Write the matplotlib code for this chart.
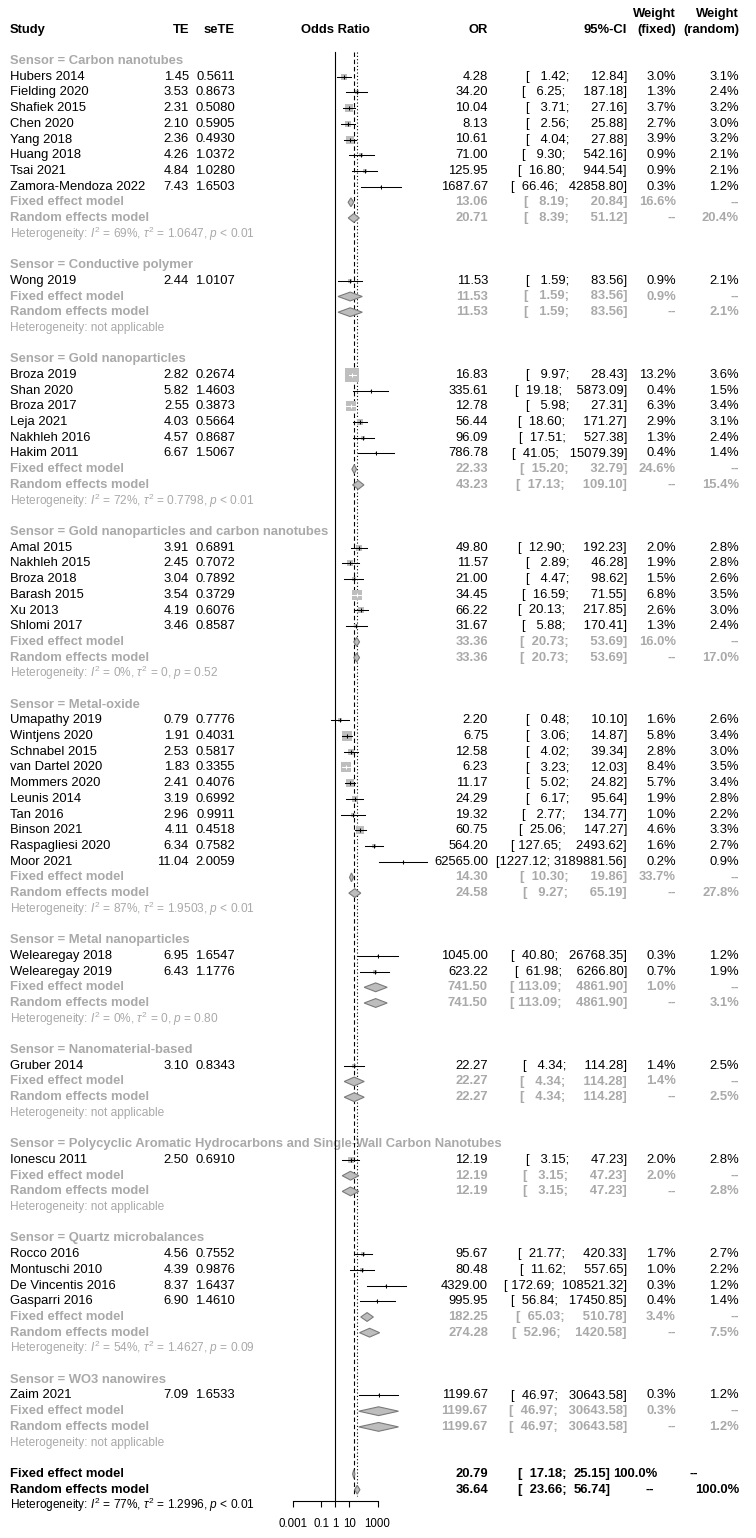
import numpy as np
import matplotlib.pyplot as plt
from matplotlib.patches import Polygon

plt.rcParams['font.family'] = ['Liberation Sans', 'DejaVu Sans']
plt.rcParams['mathtext.fontset'] = 'custom'
plt.rcParams['mathtext.rm'] = 'Liberation Sans'
plt.rcParams['mathtext.it'] = 'Liberation Sans:italic'
plt.rcParams['mathtext.bf'] = 'Liberation Sans:bold'

### Data.
groups = ['Carbon nanotubes', 'Conductive polymer', 'Gold nanoparticles',
          'Gold nanoparticles and carbon nanotubes', 'Metal-oxide',
          'Metal nanoparticles', 'Nanomaterial-based',
          'Polycyclic Aromatic Hydrocarbons and Single-Wall Carbon Nanotubes',
          'Quartz microbalances', 'WO3 nanowires']
n_studies = [8, 1, 6, 6, 10, 2, 1, 1, 4, 1]

study = ['Hubers 2014', 'Fielding 2020', 'Shafiek 2015', 'Chen 2020', 'Yang 2018',
         'Huang 2018', 'Tsai 2021', 'Zamora-Mendoza 2022',
         'Wong 2019',
         'Broza 2019', 'Shan 2020', 'Broza 2017', 'Leja 2021', 'Nakhleh 2016', 'Hakim 2011',
         'Amal 2015', 'Nakhleh 2015', 'Broza 2018', 'Barash 2015', 'Xu 2013', 'Shlomi 2017',
         'Umapathy 2019', 'Wintjens 2020', 'Schnabel 2015', 'van Dartel 2020', 'Mommers 2020',
         'Leunis 2014', 'Tan 2016', 'Binson 2021', 'Raspagliesi 2020', 'Moor 2021',
         'Welearegay 2018', 'Welearegay 2019',
         'Gruber 2014',
         'Ionescu 2011',
         'Rocco 2016', 'Montuschi 2010', 'De Vincentis 2016', 'Gasparri 2016',
         'Zaim 2021']
te = [1.45, 3.53, 2.31, 2.10, 2.36, 4.26, 4.84, 7.43,
      2.44,
      2.82, 5.82, 2.55, 4.03, 4.57, 6.67,
      3.91, 2.45, 3.04, 3.54, 4.19, 3.46,
      0.79, 1.91, 2.53, 1.83, 2.41, 3.19, 2.96, 4.11, 6.34, 11.04,
      6.95, 6.43,
      3.10,
      2.50,
      4.56, 4.39, 8.37, 6.90,
      7.09]
sete = [0.5611, 0.8673, 0.5080, 0.5905, 0.4930, 1.0372, 1.0280, 1.6503,
        1.0107,
        0.2674, 1.4603, 0.3873, 0.5664, 0.8687, 1.5067,
        0.6891, 0.7072, 0.7892, 0.3729, 0.6076, 0.8587,
        0.7776, 0.4031, 0.5817, 0.3355, 0.4076, 0.6992, 0.9911, 0.4518, 0.7582, 2.0059,
        1.6547, 1.1776,
        0.8343,
        0.6910,
        0.7552, 0.9876, 1.6437, 1.4610,
        1.6533]
odds = [4.28, 34.20, 10.04, 8.13, 10.61, 71.00, 125.95, 1687.67,
        11.53,
        16.83, 335.61, 12.78, 56.44, 96.09, 786.78,
        49.80, 11.57, 21.00, 34.45, 66.22, 31.67,
        2.20, 6.75, 12.58, 6.23, 11.17, 24.29, 19.32, 60.75, 564.20, 62565.00,
        1045.00, 623.22,
        22.27,
        12.19,
        95.67, 80.48, 4329.00, 995.95,
        1199.67]
lower = [1.42, 6.25, 3.71, 2.56, 4.04, 9.30, 16.80, 66.46,
         1.59,
         9.97, 19.18, 5.98, 18.60, 17.51, 41.05,
         12.90, 2.89, 4.47, 16.59, 20.13, 5.88,
         0.48, 3.06, 4.02, 3.23, 5.02, 6.17, 2.77, 25.06, 127.65, 1227.12,
         40.80, 61.98,
         4.34,
         3.15,
         21.77, 11.62, 172.69, 56.84,
         46.97]
upper = [12.84, 187.18, 27.16, 25.88, 27.88, 542.16, 944.54, 42858.80,
         83.56,
         28.43, 5873.09, 27.31, 171.27, 527.38, 15079.39,
         192.23, 46.28, 98.62, 71.55, 217.85, 170.41,
         10.10, 14.87, 39.34, 12.03, 24.82, 95.64, 134.77, 147.27, 2493.62, 3189881.56,
         26768.35, 6266.80,
         114.28,
         47.23,
         420.33, 557.65, 108521.32, 17450.85,
         30643.58]
w_fixed = [3.0, 1.3, 3.7, 2.7, 3.9, 0.9, 0.9, 0.3,
           0.9,
           13.2, 0.4, 6.3, 2.9, 1.3, 0.4,
           2.0, 1.9, 1.5, 6.8, 2.6, 1.3,
           1.6, 5.8, 2.8, 8.4, 5.7, 1.9, 1.0, 4.6, 1.6, 0.2,
           0.3, 0.7,
           1.4,
           2.0,
           1.7, 1.0, 0.3, 0.4,
           0.3]
w_random = [3.1, 2.4, 3.2, 3.0, 3.2, 2.1, 2.1, 1.2,
            2.1,
            3.6, 1.5, 3.4, 3.1, 2.4, 1.4,
            2.8, 2.8, 2.6, 3.5, 3.0, 2.4,
            2.6, 3.4, 3.0, 3.5, 3.4, 2.8, 2.2, 3.3, 2.7, 0.9,
            1.2, 1.9,
            2.5,
            2.8,
            2.7, 2.2, 1.2, 1.4,
            1.2]

# subgroup summaries: fixed and random
fix_or = [13.06, 11.53, 22.33, 33.36, 14.30, 741.50, 22.27, 12.19, 182.25, 1199.67]
fix_lo = [8.19, 1.59, 15.20, 20.73, 10.30, 113.09, 4.34, 3.15, 65.03, 46.97]
fix_hi = [20.84, 83.56, 32.79, 53.69, 19.86, 4861.90, 114.28, 47.23, 510.78, 30643.58]
fix_w = [16.6, 0.9, 24.6, 16.0, 33.7, 1.0, 1.4, 2.0, 3.4, 0.3]
ran_or = [20.71, 11.53, 43.23, 33.36, 24.58, 741.50, 22.27, 12.19, 274.28, 1199.67]
ran_lo = [8.39, 1.59, 17.13, 20.73, 9.27, 113.09, 4.34, 3.15, 52.96, 46.97]
ran_hi = [51.12, 83.56, 109.10, 53.69, 65.19, 4861.90, 114.28, 47.23, 1420.58, 30643.58]
ran_w = [20.4, 2.1, 15.4, 17.0, 27.8, 3.1, 2.5, 2.8, 7.5, 1.2]
het = [r'Heterogeneity: $I^2$ = 69%, $\tau^2$ = 1.0647, $p$ < 0.01',
       'Heterogeneity: not applicable',
       r'Heterogeneity: $I^2$ = 72%, $\tau^2$ = 0.7798, $p$ < 0.01',
       r'Heterogeneity: $I^2$ = 0%, $\tau^2$ = 0, $p$ = 0.52',
       r'Heterogeneity: $I^2$ = 87%, $\tau^2$ = 1.9503, $p$ < 0.01',
       r'Heterogeneity: $I^2$ = 0%, $\tau^2$ = 0, $p$ = 0.80',
       'Heterogeneity: not applicable',
       'Heterogeneity: not applicable',
       r'Heterogeneity: $I^2$ = 54%, $\tau^2$ = 1.4627, $p$ = 0.09',
       'Heterogeneity: not applicable']

# overall
tot_or = [20.79, 36.64]
tot_lo = [17.18, 23.66]
tot_hi = [25.15, 56.74]
tot_het = r'Heterogeneity: $I^2$ = 77%, $\tau^2$ = 1.2996, $p$ < 0.01'

### Layout (pixels).
W, H = 756, 1538
Y0, DY = 61.0, 15.7          # first row centre, row height
X1, PXD = 335.2, 14.1        # pixel of OR=1, pixels per decade
X_STUDY, X_TE, X_SETE = 10, 189, 235
X_OR, X_CI, X_WF, X_WR = 488, 627, 676, 739
FS, FS_HET = 9.4, 8.6
GRAY = '#a9a9a9'
SQ = '#bebebe'

def row_of(px):
    return (px - Y0) / DY

def ci_str(lo, hi):
    return '[' + f'{lo:.2f}'.rjust(7) + '; ' + f'{hi:.2f}'.rjust(10) + ']'

fig = plt.figure(figsize=(W / 100, H / 100), dpi=100)
tax = fig.add_axes([0, 0, 1, 1])
tax.set_xlim(0, W)
tax.set_ylim(row_of(H), row_of(0))
tax.axis('off')

AX_L, AX_R, AX_B = 270, 440, 1501
fax = fig.add_axes([AX_L / W, (H - AX_B) / H, (AX_R - AX_L) / W, AX_B / H])
fax.set_xlim((AX_L - X1) / PXD, (AX_R - X1) / PXD)
fax.set_ylim(row_of(AX_B), row_of(0))
fax.patch.set_alpha(0)

def txt(x, r, s, ha='right', color='black', bold=False, size=FS):
    tax.text(x, r, s, ha=ha, va='center', color=color, fontsize=size,
             fontweight='bold' if bold else 'normal')

def diamond(est, lo, hi, r):
    h = 4.4 / DY
    xs = np.log10([lo, est, hi, est])
    fax.add_patch(Polygon(np.column_stack([xs, [r, r - h, r, r + h]]),
                          closed=True, facecolor='#bdbdbd', edgecolor='#7a7a7a',
                          lw=0.8, zorder=4))

# Header.
txt(X_STUDY, -2, 'Study', ha='left', bold=True)
txt(X_TE, -2, 'TE', bold=True)
txt(X_SETE, -2, 'seTE', bold=True)
txt(X1, -2, 'Odds Ratio', ha='center', bold=True)
txt(X_OR, -2, 'OR', bold=True)
txt(X_CI, -2, '95%-CI', bold=True)
txt(X_WF, -3, 'Weight', bold=True)
txt(X_WF, -2, '(fixed)', bold=True)
txt(X_WR, -3, 'Weight', bold=True)
txt(X_WR, -2, '(random)', bold=True)

# Groups.
r = 0
k = 0
for g, name in enumerate(groups):
    txt(X_STUDY, r, 'Sensor = ' + name, ha='left', color=GRAY, bold=True)
    for j in range(n_studies[g]):
        i = k + j
        rr = r + 1 + j
        txt(X_STUDY, rr, study[i], ha='left')
        txt(X_TE, rr, f'{te[i]:.2f}')
        txt(X_SETE, rr, f'{sete[i]:.4f}')
        txt(X_OR, rr, f'{odds[i]:.2f}')
        txt(X_CI, rr, ci_str(lower[i], upper[i]))
        txt(X_WF, rr, f'{w_fixed[i]:.1f}%')
        txt(X_WR, rr, f'{w_random[i]:.1f}%')
        # forest marks
        side = 3.75 * np.sqrt(w_fixed[i])
        lo, est, hi = np.log10([lower[i], odds[i], upper[i]])
        inside = (hi - lo) * PXD < side
        lc = 'white' if inside else 'black'
        fax.plot(est, rr, marker='s', ms=side * 0.72, color=SQ, mec=SQ, mew=0, zorder=3)
        fax.plot([lo, hi], [rr, rr], color=lc, lw=0.75, zorder=3.5)
        fax.plot(est, rr, marker='|', ms=3.0, color=lc, mew=0.75, zorder=3.5)
    k += n_studies[g]
    rf = r + 1 + n_studies[g]
    txt(X_STUDY, rf, 'Fixed effect model', ha='left', color=GRAY, bold=True)
    txt(X_OR, rf, f'{fix_or[g]:.2f}', color=GRAY, bold=True)
    txt(X_CI, rf, ci_str(fix_lo[g], fix_hi[g]), color=GRAY, bold=True)
    txt(X_WF, rf, f'{fix_w[g]:.1f}%', color=GRAY, bold=True)
    txt(X_WR, rf, '--', color=GRAY, bold=True)
    diamond(fix_or[g], fix_lo[g], fix_hi[g], rf)
    txt(X_STUDY, rf + 1, 'Random effects model', ha='left', color=GRAY, bold=True)
    txt(X_OR, rf + 1, f'{ran_or[g]:.2f}', color=GRAY, bold=True)
    txt(X_CI, rf + 1, ci_str(ran_lo[g], ran_hi[g]), color=GRAY, bold=True)
    txt(X_WF, rf + 1, '--', color=GRAY, bold=True)
    txt(X_WR, rf + 1, f'{ran_w[g]:.1f}%', color=GRAY, bold=True)
    diamond(ran_or[g], ran_lo[g], ran_hi[g], rf + 1)
    txt(X_STUDY, rf + 2, het[g], ha='left', color=GRAY, size=FS_HET)
    r = rf + 4

# Overall.
labels = ['Fixed effect model', 'Random effects model']
for m in range(2):
    rr = r + m
    txt(X_STUDY, rr, labels[m], ha='left', bold=True)
    txt(X_OR, rr, f'{tot_or[m]:.2f}', bold=True)
    txt(567, rr, '[' + f'{tot_lo[m]:.2f}'.rjust(7) + ';', bold=True)
    txt(574, rr, f'{tot_hi[m]:.2f}]', ha='left', bold=True)
    diamond(tot_or[m], tot_lo[m], tot_hi[m], rr)
txt(613, r, '100.0%', ha='left', bold=True)
txt(690, r, '--', ha='left', bold=True)
txt(645, r + 1, '--', ha='left', bold=True)
txt(X_WR, r + 1, '100.0%', bold=True)
txt(X_STUDY, r + 2, tot_het, ha='left', size=FS_HET)

# Reference lines.
top = row_of(52)
fax.plot([0, 0], [top, row_of(AX_B)], color='black', lw=0.8, zorder=2)
fax.plot([np.log10(tot_or[0])] * 2, [top, r + 1.4], color='black', lw=0.8,
         ls=(0, (4, 2.5)), zorder=2)
fax.plot([np.log10(tot_or[1])] * 2, [top, r + 1.4], color='black', lw=0.8,
         ls=(0, (1, 2)), zorder=2)

# x axis.
for s in ['top', 'left', 'right']:
    fax.spines[s].set_visible(False)
fax.spines['bottom'].set_bounds(-3, 3)
fax.spines['bottom'].set_linewidth(0.8)
fax.set_yticks([])
fax.set_xticks([-3, -1, 0, 1, 3])
fax.set_xticklabels(['0.001', '0.1', '1', '10', '1000'])
fax.tick_params(axis='x', direction='out', length=4.3, width=0.8, labelsize=8.3, pad=8)

fig.savefig('out.png', dpi=100)
